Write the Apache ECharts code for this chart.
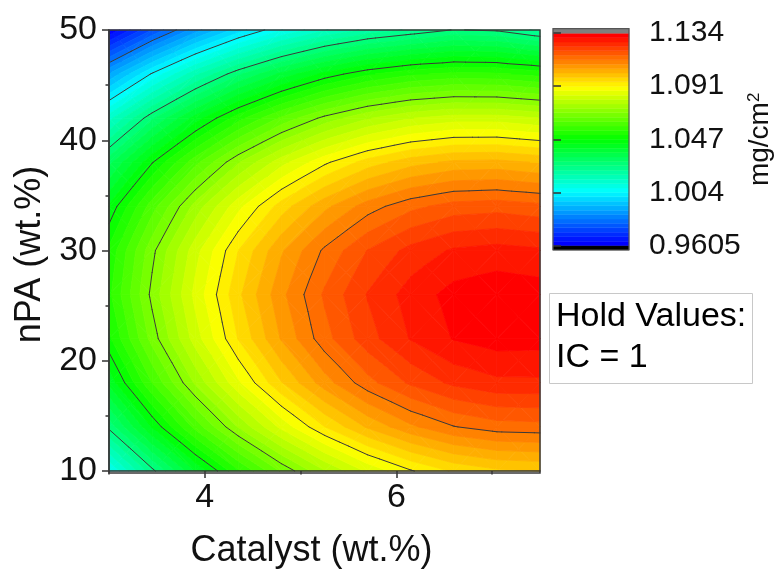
<!DOCTYPE html>
<html><head><meta charset="utf-8">
<script src="https://cdn.jsdelivr.net/npm/echarts@6/dist/echarts.min.js"></script>
<style>html,body{margin:0;padding:0;background:#fff}#c{width:783px;height:574px}</style>
</head><body><div id="c"></div>
<script>
// ---- data (grid of response values, mg/cm2) ----
const catalyst = [3, 3.45, 3.9, 4.35, 4.8, 5.25, 5.7, 6.15, 6.6, 7.05, 7.5];
const nPA = [10, 14, 18, 22, 26, 30, 34, 38, 42, 46, 50];
const mass_nPA10 = [1.0069, 1.0244, 1.0401, 1.0539, 1.0658, 1.0758, 1.0840, 1.0902, 1.0947, 1.0971, 1.0978];
const mass_nPA14 = [1.0267, 1.0440, 1.0593, 1.0728, 1.0844, 1.0941, 1.1020, 1.1079, 1.1121, 1.1142, 1.1146];
const mass_nPA18 = [1.0411, 1.0581, 1.0731, 1.0863, 1.0976, 1.1070, 1.1146, 1.1202, 1.1240, 1.1259, 1.1260];
const mass_nPA22 = [1.0501, 1.0668, 1.0815, 1.0944, 1.1054, 1.1145, 1.1217, 1.1270, 1.1306, 1.1321, 1.1319];
const mass_nPA26 = [1.0536, 1.0700, 1.0844, 1.0970, 1.1077, 1.1165, 1.1234, 1.1284, 1.1317, 1.1329, 1.1323];
const mass_nPA30 = [1.0517, 1.0678, 1.0819, 1.0942, 1.1046, 1.1130, 1.1197, 1.1244, 1.1273, 1.1282, 1.1274];
const mass_nPA34 = [1.0444, 1.0601, 1.0739, 1.0859, 1.0960, 1.1041, 1.1105, 1.1149, 1.1175, 1.1181, 1.1170];
const mass_nPA38 = [1.0316, 1.0470, 1.0605, 1.0722, 1.0820, 1.0898, 1.0959, 1.1000, 1.1023, 1.1026, 1.1011];
const mass_nPA42 = [1.0134, 1.0285, 1.0417, 1.0531, 1.0625, 1.0701, 1.0758, 1.0796, 1.0816, 1.0816, 1.0798];
const mass_nPA46 = [0.9897, 1.0045, 1.0174, 1.0285, 1.0376, 1.0449, 1.0503, 1.0538, 1.0555, 1.0552, 1.0531];
const mass_nPA50 = [0.9606, 0.9751, 0.9877, 0.9985, 1.0073, 1.0143, 1.0194, 1.0226, 1.0258, 1.0250, 1.0210];
const massGrid = [mass_nPA10, mass_nPA14, mass_nPA18, mass_nPA22, mass_nPA26, mass_nPA30,
                  mass_nPA34, mass_nPA38, mass_nPA42, mass_nPA46, mass_nPA50];

const zMin = 0.9605, zMax = 1.134;
const contourLevels = [0.9822, 1.0039, 1.0256, 1.0473, 1.0689, 1.0906, 1.1123];
const subLevels = 6;
const colorbarTicks = [0.9605, 1.004, 1.047, 1.091, 1.134];
const colorbarTickLabels = ['0.9605', '1.004', '1.047', '1.091', '1.134'];
const xMajorTicks = [4, 6];
const xMinorTicks = [3, 5, 7];

// ---- styling ----
const FONT = '"Liberation Sans", Arial, sans-serif';
const paletteStops = ['#0000ff', '#00ffff', '#00ff00', '#ffff00', '#ff0000'];
const underColor = '#000000', overColor = '#7f7f7f';
const PLOT = {left: 109, top: 30, width: 431, height: 443};
const CBAR = {left: 553, top: 28.7, width: 76, height: 221.3};

// fill level edges (each contour interval split into sub-levels)
const majorEdges = [zMin].concat(contourLevels, [zMax]);
const fillEdges = [];
for (let m = 0; m < majorEdges.length - 1; m++) {
  for (let s = 0; s < subLevels; s++) fillEdges.push(majorEdges[m] + (majorEdges[m + 1] - majorEdges[m]) * s / subLevels);
}
fillEdges.push(zMax);
const nBands = fillEdges.length - 1;
const bandStep = (zMax - zMin) / nBands;

function hexToRgb(h) { return [parseInt(h.slice(1, 3), 16), parseInt(h.slice(3, 5), 16), parseInt(h.slice(5, 7), 16)]; }
const stopsRgb = paletteStops.map(hexToRgb);
function paletteAt(t) {
  t = Math.max(0, Math.min(1, t));
  const s = t * (stopsRgb.length - 1);
  const k = Math.min(Math.floor(s), stopsRgb.length - 2);
  const f = s - k, a = stopsRgb[k], b = stopsRgb[k + 1];
  return 'rgb(' + [0, 1, 2].map(c => Math.round(a[c] + (b[c] - a[c]) * f)).join(',') + ')';
}
function bandColor(b) {
  if (b < 0) return underColor;
  if (b >= nBands) return overColor;
  return paletteAt(b / (nBands - 1));
}

function clipPoly(poly, level, keepAbove) {
  const out = [];
  for (let k = 0; k < poly.length; k++) {
    const a = poly[k], b = poly[(k + 1) % poly.length];
    const ina = keepAbove ? a[2] >= level : a[2] <= level;
    const inb = keepAbove ? b[2] >= level : b[2] <= level;
    if (ina) out.push(a);
    if (ina !== inb) {
      const t = (level - a[2]) / (b[2] - a[2]);
      out.push([a[0] + t * (b[0] - a[0]), a[1] + t * (b[1] - a[1]), level]);
    }
  }
  return out;
}

function cellTriangles(i, j, api) {
  const P = (ii, jj) => { const p = api.coord([catalyst[ii], nPA[jj]]); return [p[0], p[1], massGrid[jj][ii]]; };
  const a = P(i, j), b = P(i + 1, j), c = P(i + 1, j + 1), d = P(i, j + 1);
  const m = [(a[0] + c[0]) / 2, (a[1] + c[1]) / 2, (a[2] + b[2] + c[2] + d[2]) / 4];
  return [[a, b, m], [b, c, m], [c, d, m], [d, a, m]];
}

const cellData = [];
for (let j = 0; j < nPA.length - 1; j++)
  for (let i = 0; i < catalyst.length - 1; i++) cellData.push([catalyst[i], nPA[j], i, j]);

function renderFill(params, api) {
  const i = api.value(2), j = api.value(3);
  const children = [];
  for (const tri of cellTriangles(i, j, api)) {
    const zs = tri.map(p => p[2]);
    const lo = Math.min.apply(null, zs), hi = Math.max.apply(null, zs);
    for (let b = 0; b < nBands; b++) {
      const bl = b === 0 ? -Infinity : fillEdges[b];
      const bh = b === nBands - 1 ? Infinity : fillEdges[b + 1];
      if (bh < lo || bl > hi) continue;
      let poly = tri;
      if (bl > lo) poly = clipPoly(poly, bl, true);
      if (poly.length >= 3 && bh < hi) poly = clipPoly(poly, bh, false);
      if (poly.length < 3) continue;
      const col = bandColor(b);
      children.push({type: 'polygon', shape: {points: poly.map(p => [p[0], p[1]])},
        style: {fill: col, stroke: col, lineWidth: 0.8}});
    }
  }
  return {type: 'group', children: children};
}

function renderContours(params, api) {
  const i = api.value(2), j = api.value(3);
  const children = [];
  for (const tri of cellTriangles(i, j, api)) {
    for (const L of contourLevels) {
      const pts = [];
      for (let e = 0; e < 3; e++) {
        const a = tri[e], b = tri[(e + 1) % 3];
        if ((a[2] < L) !== (b[2] < L)) {
          const t = (L - a[2]) / (b[2] - a[2]);
          pts.push([a[0] + t * (b[0] - a[0]), a[1] + t * (b[1] - a[1])]);
        }
      }
      if (pts.length === 2) children.push({type: 'line',
        shape: {x1: pts[0][0], y1: pts[0][1], x2: pts[1][0], y2: pts[1][1]},
        style: {stroke: '#3a3a3a', lineWidth: 1, lineCap: 'round'}});
    }
  }
  return {type: 'group', children: children};
}

const colorbarData = [[0, zMin - bandStep, zMin, -1]];
for (let b = 0; b < nBands; b++) colorbarData.push([0, fillEdges[b], fillEdges[b + 1], b]);
colorbarData.push([0, zMax, zMax + bandStep, nBands]);

function renderColorbar(params, api) {
  const p0 = api.coord([0, api.value(1)]);
  const p1 = api.coord([1, api.value(2)]);
  const col = bandColor(api.value(3));
  return {type: 'rect', shape: {x: p0[0], y: p1[1], width: p1[0] - p0[0], height: p0[1] - p1[1]},
    style: {fill: col, stroke: col, lineWidth: 0.5}};
}

const tickColor = '#333';
const labelStyle = {fontFamily: FONT, color: '#111'};

const chart = echarts.init(document.getElementById('c'), null, {renderer: 'canvas'});
chart.setOption({
  animation: false,
  backgroundColor: '#fff',
  grid: [
    Object.assign({show: false}, PLOT),
    Object.assign({show: false}, CBAR)
  ],
  xAxis: [
    {type: 'value', gridIndex: 0, min: 3, max: 7.5, z: 10,
     axisLine: {show: true, onZero: false, lineStyle: {color: tickColor, width: 1.5}},
     axisTick: {show: true, customValues: xMajorTicks, length: 7, lineStyle: {color: tickColor, width: 1.5}},
     axisLabel: Object.assign({customValues: xMajorTicks, fontSize: 34, margin: 10}, labelStyle),
     splitLine: {show: false},
     name: 'Catalyst (wt.%)', nameLocation: 'middle', nameGap: 62,
     nameTextStyle: {fontFamily: FONT, fontSize: 36, color: '#111', padding: [0, 26, 0, 0]}},
    {type: 'value', gridIndex: 0, min: 3, max: 7.5, z: 10, position: 'bottom',
     axisLine: {show: false}, axisLabel: {show: false}, splitLine: {show: false},
     axisTick: {show: true, customValues: xMinorTicks, length: 3.5, lineStyle: {color: tickColor, width: 1.5}}},
    {type: 'value', gridIndex: 1, min: 0, max: 1, show: false}
  ],
  yAxis: [
    {type: 'value', gridIndex: 0, min: 10, max: 50, interval: 10, z: 10,
     axisLine: {show: true, onZero: false, lineStyle: {color: tickColor, width: 1.5}},
     axisTick: {show: true, length: 7, lineStyle: {color: tickColor, width: 1.5}},
     minorTick: {show: true, splitNumber: 2, length: 3.5, lineStyle: {color: tickColor, width: 1.5}},
     axisLabel: Object.assign({fontSize: 34, margin: 12}, labelStyle),
     splitLine: {show: false},
     name: 'nPA (wt.%)', nameLocation: 'middle', nameGap: 54, nameRotate: 90,
     nameTextStyle: {fontFamily: FONT, fontSize: 36, color: '#111', padding: [0, 8, 0, 0]}},
    {type: 'value', gridIndex: 1, position: 'right', min: zMin - bandStep, max: zMax + bandStep, z: 10,
     axisLine: {show: false},
     axisTick: {show: true, customValues: colorbarTicks, length: 8, lineStyle: {color: tickColor, width: 1.5}},
     axisLabel: Object.assign({customValues: colorbarTicks, fontSize: 30, margin: 20,
       formatter: v => { const k = colorbarTicks.indexOf(v); return k >= 0 ? colorbarTickLabels[k] : ''; }}, labelStyle),
     splitLine: {show: false},
     name: 'mg/cm{sup|2}', nameLocation: 'middle', nameRotate: 90, nameGap: 117,
     nameTextStyle: {fontFamily: FONT, fontSize: 28, color: '#111',
       rich: {sup: {fontFamily: FONT, fontSize: 17, color: '#111', verticalAlign: 'top', padding: [0, 0, 9, 0]}}}}
  ],
  series: [
    {type: 'custom', name: 'fill', xAxisIndex: 0, yAxisIndex: 0, data: cellData,
     encode: {x: 0, y: 1}, renderItem: renderFill, silent: true, z: 2},
    {type: 'custom', name: 'contours', xAxisIndex: 0, yAxisIndex: 0, data: cellData,
     encode: {x: 0, y: 1}, renderItem: renderContours, silent: true, z: 3},
    {type: 'custom', name: 'colorbar', xAxisIndex: 2, yAxisIndex: 1, data: colorbarData,
     encode: {x: 0, y: [1, 2]}, renderItem: renderColorbar, silent: true, z: 2}
  ],
  graphic: [
    {type: 'rect', z: 100, silent: true,
     shape: {x: PLOT.left, y: PLOT.top, width: PLOT.width, height: PLOT.height},
     style: {fill: 'none', stroke: '#3a3a3a', lineWidth: 1.5}},
    {type: 'rect', z: 100, silent: true,
     shape: {x: CBAR.left, y: CBAR.top, width: CBAR.width, height: CBAR.height},
     style: {fill: 'none', stroke: '#555', lineWidth: 1.2}},
    {type: 'rect', z: 100, silent: true,
     shape: {x: 549.5, y: 293.5, width: 203, height: 90},
     style: {fill: '#fff', stroke: '#c8c8c8', lineWidth: 1}},
    {type: 'text', z: 101, silent: true, x: 556, y: 317,
     style: {text: 'Hold Values:', font: '34px ' + FONT, fill: '#000', verticalAlign: 'middle'}},
    {type: 'text', z: 101, silent: true, x: 556, y: 358,
     style: {text: 'IC = 1', font: '34px ' + FONT, fill: '#000', verticalAlign: 'middle'}}
  ]
});
</script>
</body></html>
